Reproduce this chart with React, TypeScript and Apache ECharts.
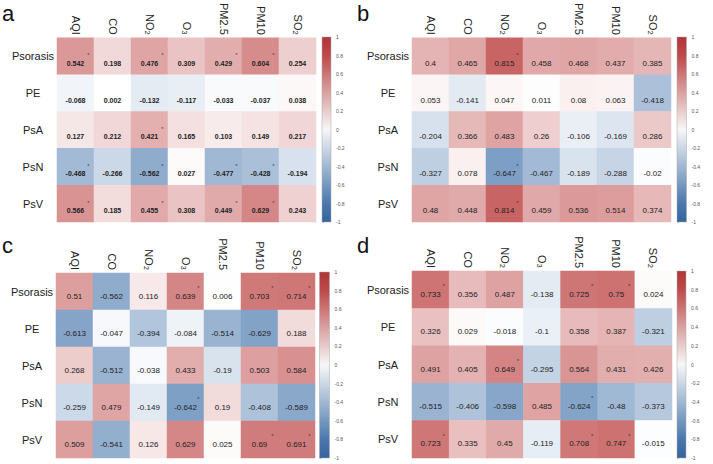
import React, { useEffect, useRef } from "react";
import * as echarts from "echarts";

const rowNames = ["Psorasis", "PE", "PsA", "PsN", "PsV"];
const colNames = ["AQI", "CO", "NO2", "O3", "PM2.5", "PM10", "SO2"];
const scaleTicks = { min: -1, max: 1, step: 0.2 };

// Panel a
const valuesA = [
  [0.542, 0.198, 0.476, 0.309, 0.429, 0.604, 0.254],
  [-0.068, 0.002, -0.132, -0.117, -0.033, -0.037, 0.038],
  [0.127, 0.212, 0.421, 0.165, 0.103, 0.149, 0.217],
  [-0.468, -0.266, -0.562, 0.027, -0.477, -0.428, -0.194],
  [0.566, 0.185, 0.455, 0.308, 0.449, 0.629, 0.243],
];
const sigA = [
  [1, 0, 1, 0, 1, 1, 0],
  [0, 0, 0, 0, 0, 0, 0],
  [0, 0, 1, 0, 0, 0, 0],
  [1, 0, 1, 0, 1, 1, 0],
  [1, 0, 1, 0, 1, 1, 0],
];

// Panel b
const valuesB = [
  [0.4, 0.465, 0.815, 0.458, 0.468, 0.437, 0.385],
  [0.053, -0.141, 0.047, 0.011, 0.08, 0.063, -0.418],
  [-0.204, 0.366, 0.483, 0.26, -0.106, -0.169, 0.286],
  [-0.327, 0.078, -0.647, -0.467, -0.189, -0.288, -0.02],
  [0.48, 0.448, 0.814, 0.459, 0.536, 0.514, 0.374],
];
const sigB = [
  [0, 0, 1, 0, 0, 0, 0],
  [0, 0, 0, 0, 0, 0, 0],
  [0, 0, 0, 0, 0, 0, 0],
  [0, 0, 1, 0, 0, 0, 0],
  [0, 0, 1, 0, 0, 0, 0],
];

// Panel c
const valuesC = [
  [0.51, -0.562, 0.116, 0.639, 0.006, 0.703, 0.714],
  [-0.613, -0.047, -0.394, -0.084, -0.514, -0.629, 0.188],
  [0.268, -0.512, -0.038, 0.433, -0.19, 0.503, 0.584],
  [-0.259, 0.479, -0.149, -0.642, 0.19, -0.408, -0.589],
  [0.509, -0.541, 0.126, 0.629, 0.025, 0.69, 0.691],
];
const sigC = [
  [0, 0, 0, 1, 0, 1, 1],
  [0, 0, 0, 0, 0, 0, 0],
  [0, 0, 0, 0, 0, 0, 0],
  [0, 0, 0, 1, 0, 0, 0],
  [0, 0, 0, 0, 0, 1, 1],
];

// Panel d
const valuesD = [
  [0.733, 0.356, 0.487, -0.138, 0.725, 0.75, 0.024],
  [0.326, 0.029, -0.018, -0.1, 0.358, 0.387, -0.321],
  [0.491, 0.405, 0.649, -0.295, 0.564, 0.431, 0.426],
  [-0.515, -0.406, -0.598, 0.485, -0.624, -0.48, -0.373],
  [0.723, 0.335, 0.45, -0.119, 0.708, 0.747, -0.015],
];
const sigD = [
  [1, 0, 0, 0, 1, 1, 0],
  [0, 0, 0, 0, 0, 0, 0],
  [0, 0, 1, 0, 0, 0, 0],
  [0, 0, 0, 0, 1, 0, 0],
  [1, 0, 0, 0, 1, 1, 0],
];

const FONT = "'Liberation Sans', Arial, Helvetica, sans-serif";

const panels = [
  {
    letter: "a", values: valuesA, sig: sigA,
    heat: { left: 57, top: 33, width: 259, height: 189 },
    bar: { left: 322, top: 37, width: 9, height: 185 },
    letterPos: [2, 2], valueSize: 7, valueWeight: "bold", valueDy: 7, rowDy: 2,
  },
  {
    letter: "b", values: valuesB, sig: sigB,
    heat: { left: 412, top: 33, width: 259, height: 189 },
    bar: { left: 677, top: 37, width: 9.5, height: 185 },
    letterPos: [357, 2], valueSize: 8, valueWeight: "normal", valueDy: 7, rowDy: 2,
  },
  {
    letter: "c", values: valuesC, sig: sigC,
    heat: { left: 56, top: 273, width: 259, height: 185 },
    bar: { left: 319.5, top: 272, width: 10, height: 186 },
    letterPos: [2, 234], valueSize: 8, valueWeight: "normal", valueDy: 4.5, rowDy: 0,
  },
  {
    letter: "d", values: valuesD, sig: sigD,
    heat: { left: 412, top: 271, width: 260, height: 187 },
    bar: { left: 677, top: 271, width: 9, height: 187 },
    letterPos: [357, 234], valueSize: 8, valueWeight: "normal", valueDy: 4.5, rowDy: 0,
  },
];

const subDigits: Record<string, string> = { "2": "\u2082", "3": "\u2083" };
const colFormatter = (v: string) => {
  if (v === "NO2" || v === "O3" || v === "SO2") {
    return v.slice(0, -1) + subDigits[v.slice(-1)];
  }
  return v;
};

function buildOption() {
  const grid: any[] = [];
  const xAxis: any[] = [];
  const yAxis: any[] = [];
  const series: any[] = [];
  const graphic: any[] = [];
  const heatIdx: number[] = [];

  panels.forEach((p, i) => {
    grid.push({ ...p.heat });
    grid.push({ ...p.bar });
    xAxis.push({
      type: "category", gridIndex: 2 * i, position: "top", data: colNames,
      axisLine: { show: false }, axisTick: { show: false }, splitLine: { show: false },
      axisLabel: {
        rotate: 90, margin: 3, color: "#222", fontFamily: FONT, fontSize: 11,
        formatter: colFormatter,
      },
    });
    xAxis.push({ type: "value", gridIndex: 2 * i + 1, show: false, min: 0, max: 1 });
    yAxis.push({
      type: "category", gridIndex: 2 * i, inverse: true, data: rowNames,
      axisLine: { show: false }, axisTick: { show: false }, splitLine: { show: false },
      axisLabel: {
        fontSize: 11, color: "#222", fontFamily: FONT, align: "center", margin: 24,
        padding: [2 * p.rowDy, 0, 0, 0],
      },
    });
    yAxis.push({
      type: "value", gridIndex: 2 * i + 1, position: "right",
      min: scaleTicks.min, max: scaleTicks.max, interval: scaleTicks.step,
      axisLine: { show: false }, splitLine: { show: false },
      axisTick: { show: true, length: 2, lineStyle: { color: "#999", width: 0.6 } },
      axisLabel: { fontSize: 5, color: "#555", margin: 5, fontFamily: FONT },
    });

    heatIdx.push(series.length);
    series.push({
      type: "heatmap", xAxisIndex: 2 * i, yAxisIndex: 2 * i, silent: true,
      data: p.values.flatMap((row, r) => row.map((v, c) => [c, r, v])),
      label: {
        show: true, formatter: (q: any) => String(q.value[2]),
        fontSize: p.valueSize, fontWeight: p.valueWeight, color: "#222",
        fontFamily: FONT, offset: [0, p.valueDy],
      },
    });
    const stars: number[][] = [];
    p.sig.forEach((row, r) => row.forEach((s, c) => { if (s) stars.push([c, r]); }));
    series.push({
      type: "scatter", xAxisIndex: 2 * i, yAxisIndex: 2 * i, silent: true,
      symbolSize: 1, itemStyle: { color: "rgba(0,0,0,0)" }, data: stars,
      label: {
        show: true, position: "inside", formatter: "*", fontSize: 6, color: "#222",
        fontFamily: FONT, offset: [13, p.valueDy - 8],
      },
    });

    graphic.push({
      type: "rect", z: 10, silent: true,
      shape: { x: p.bar.left, y: p.bar.top, width: p.bar.width, height: p.bar.height },
      style: {
        fill: new echarts.graphic.LinearGradient(0, 0, 0, 1, [
          { offset: 0, color: "#b03537" },
          { offset: 0.1, color: "#bd4a4b" },
          { offset: 0.5, color: "#f7f7f7" },
          { offset: 0.9, color: "#4a78ad" },
          { offset: 1, color: "#35649e" },
        ]),
        stroke: "#aaa", lineWidth: 0.5,
      },
    });
    graphic.push({
      type: "text", left: p.letterPos[0], top: p.letterPos[1],
      style: { text: p.letter, fontSize: 22, fill: "#111", fontFamily: FONT },
    });
  });

  return {
    animation: false,
    backgroundColor: "#ffffff",
    grid, xAxis, yAxis, series, graphic,
    visualMap: [{
      type: "continuous", show: false, min: -1, max: 1, seriesIndex: heatIdx,
      inRange: { color: ["#386ba5", "#ffffff", "#bc4141"] },
    }],
  };
}

export default function App() {
  const ref = useRef<HTMLDivElement>(null);
  useEffect(() => {
    document.body.style.margin = "0";
    if (!ref.current) return;
    const chart = echarts.init(ref.current, null, { renderer: "svg" });
    chart.setOption(buildOption() as any);
    return () => chart.dispose();
  }, []);
  return <div ref={ref} style={{ width: 713, height: 464 }} />;
}
